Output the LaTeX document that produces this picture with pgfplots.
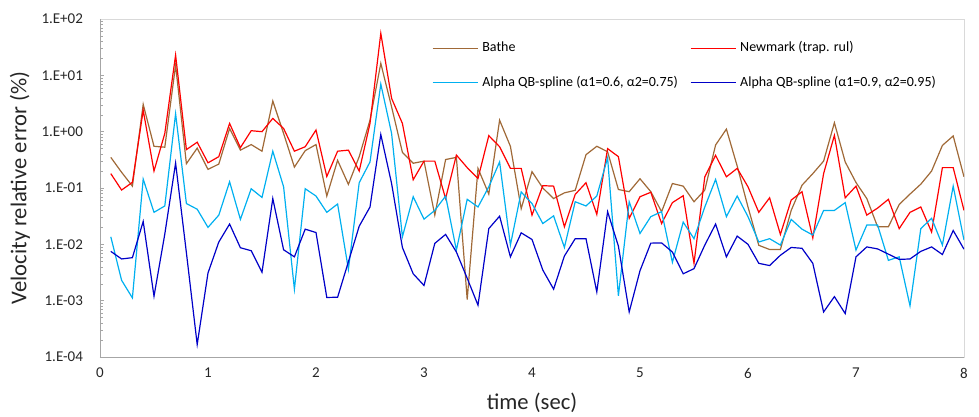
\documentclass[border=0pt]{standalone}
\usepackage{fontspec}
\setmainfont{Carlito}
\usepackage{pgfplots}
\usepackage{pgfplotstable}
\pgfplotsset{compat=1.18}
\definecolor{cBathe}{RGB}{160,105,55}
\definecolor{cNewmark}{RGB}{255,0,0}
\definecolor{cAlphaA}{RGB}{0,176,240}
\definecolor{cAlphaB}{RGB}{0,0,200}
\pgfplotstableread{
t bathe newmark aqba aqbb
0.1 0.35 0.18 0.0136 0.0075
0.2 0.19 0.092 0.0023 0.0055
0.3 0.108 0.126 0.00112 0.0058
0.4 3.05 2.4 0.144 0.0255
0.5 0.55 0.20 0.037 0.0012
0.6 0.53 0.93 0.048 0.0152
0.7 15.2 22.9 2.08 0.277
0.8 0.27 0.48 0.053 0.0071
0.9 0.51 0.65 0.042 0.000167
1.0 0.214 0.28 0.020 0.0031
1.1 0.266 0.36 0.033 0.011
1.2 1.14 1.4 0.129 0.0229
1.3 0.47 0.52 0.0277 0.0087
1.4 0.59 1.04 0.097 0.0077
1.5 0.45 1.0 0.068 0.0032
1.6 3.5 1.72 0.45 0.065
1.7 0.93 1.14 0.105 0.0080
1.8 0.235 0.45 0.0016 0.006
1.9 0.46 0.54 0.097 0.0186
2.0 0.59 1.07 0.072 0.0162
2.1 0.072 0.16 0.037 0.00114
2.2 0.31 0.45 0.052 0.00115
2.3 0.116 0.47 0.0036 0.0049
2.4 0.36 0.20 0.124 0.021
2.5 1.6 1.4 0.29 0.046
2.6 16.3 55.6 7.0 0.89
2.7 2.75 3.9 0.93 0.12
2.8 0.43 1.4 0.0136 0.0088
2.9 0.275 0.14 0.070 0.0030
3.0 0.30 0.30 0.028 0.00186
3.1 0.033 0.30 0.040 0.0104
3.2 0.32 0.065 0.072 0.015
3.3 0.35 0.384 0.0079 0.0073
3.4 0.00105 0.23 0.063 0.0025
3.5 0.223 0.148 0.046 0.00083
3.6 0.078 0.85 0.105 0.019
3.7 1.6 0.54 0.29 0.0316
3.8 0.55 0.223 0.0097 0.006
3.9 0.043 0.223 0.085 0.016
4.0 0.195 0.033 0.053 0.0122
4.1 0.10 0.11 0.0234 0.0035
4.2 0.065 0.108 0.032 0.0016
4.3 0.082 0.0205 0.0088 0.0062
4.4 0.091 0.077 0.057 0.0126
4.5 0.39 0.124 0.048 0.0126
4.6 0.55 0.034 0.072 0.00143
4.7 0.44 0.50 0.344 0.038
4.8 0.094 0.36 0.00122 0.0093
4.9 0.086 0.029 0.057 0.00063
5.0 0.146 0.070 0.0156 0.0034
5.1 0.086 0.084 0.031 0.0105
5.2 0.038 0.0234 0.038 0.0106
5.3 0.12 0.055 0.0048 0.0073
5.4 0.108 0.073 0.0248 0.0030
5.5 0.057 0.0046 0.0126 0.0037
5.6 0.092 0.158 0.046 0.0097
5.7 0.58 0.38 0.142 0.0229
5.8 1.11 0.158 0.031 0.006
5.9 0.245 0.223 0.072 0.014
6.0 0.046 0.105 0.031 0.010
6.1 0.0096 0.037 0.011 0.0046
6.2 0.0081 0.067 0.0126 0.0042
6.3 0.0081 0.015 0.0097 0.0064
6.4 0.040 0.061 0.0277 0.0088
6.5 0.112 0.086 0.0186 0.0085
6.6 0.18 0.013 0.0146 0.0046
6.7 0.30 0.18 0.040 0.00063
6.8 1.44 0.86 0.040 0.00118
6.9 0.29 0.067 0.055 0.00059
7.0 0.125 0.108 0.0079 0.006
7.1 0.065 0.033 0.022 0.009
7.2 0.0205 0.044 0.022 0.0083
7.3 0.0205 0.063 0.0052 0.0067
7.4 0.051 0.019 0.006 0.0054
7.5 0.078 0.037 0.00081 0.0055
7.6 0.117 0.046 0.019 0.0075
7.7 0.20 0.0165 0.029 0.009
7.8 0.57 0.23 0.0097 0.0066
7.9 0.84 0.23 0.108 0.0176
8.0 0.158 0.040 0.0119 0.0082
}\datatable
\begin{document}
\begin{tikzpicture}
\begin{axis}[
  scale only axis, width=432pt, height=169pt,
  ymode=log, xmin=0, xmax=8, ymin=1e-4, ymax=1e2,
  xtick={0,1,2,3,4,5,6,7,8},
  ytick={1e-4,1e-3,1e-2,1e-1,1,10,100},
  yticklabels={1.E-04,1.E-03,1.E-02,1.E-01,1.E+00,1.E+01,1.E+02},
  /pgf/number format/assume math mode=true,
  ticklabel style={font=\fontsize{7.5}{9}\selectfont, text=black!85},
  yticklabel style={xshift=-5pt},
  xticklabel style={yshift=-2pt},
  x tick style={draw=none},
  y tick style={gray!70},
  ytick pos=left, tick align=inside,
  major tick length=2pt, minor tick length=1.5pt,
  axis line style={gray!30},
  xlabel={time (sec)}, ylabel={Velocity relative error (\%)},
  label style={font=\fontsize{11.3}{13}\selectfont, text=black!85},
  xlabel style={at={(axis description cs:0.5,-0.136)}, anchor=center},
  ylabel style={at={(axis description cs:-0.0926,0.5)}, anchor=center},
  legend columns=2,
  legend cell align=left,
  legend style={draw=none, fill=none, font=\fontsize{7}{8}\selectfont,
    at={(axis description cs:0.377,0.958)}, anchor=north west,
    row sep=6.5pt,
    /tikz/every even column/.append style={column sep=4pt}},
  legend image code/.code={\draw[#1] (0pt,0pt) -- (22.5pt,0pt);},
  every axis plot/.append style={line width=0.6pt, mark=none},
]
\draw[gray!70] (rel axis cs:0,1) -- (rel axis cs:0,0) -- (rel axis cs:1,0);
\addplot[color=cBathe] table[x=t, y=bathe] {\datatable};
\addlegendentry{Bathe}
\addplot[color=cNewmark] table[x=t, y=newmark] {\datatable};
\addlegendentry{Newmark (trap. rul)}
\addplot[color=cAlphaA] table[x=t, y=aqba] {\datatable};
\addlegendentry{Alpha QB-spline (α1=0.6, α2=0.75)}
\addplot[color=cAlphaB] table[x=t, y=aqbb] {\datatable};
\addlegendentry{Alpha QB-spline (α1=0.9, α2=0.95)}
\end{axis}
\pgfresetboundingbox
\path ([xshift=-50pt,yshift=-30pt]current axis.south west) rectangle ([xshift=7.5pt,yshift=9.5pt]current axis.north east);
\end{tikzpicture}
\end{document}
